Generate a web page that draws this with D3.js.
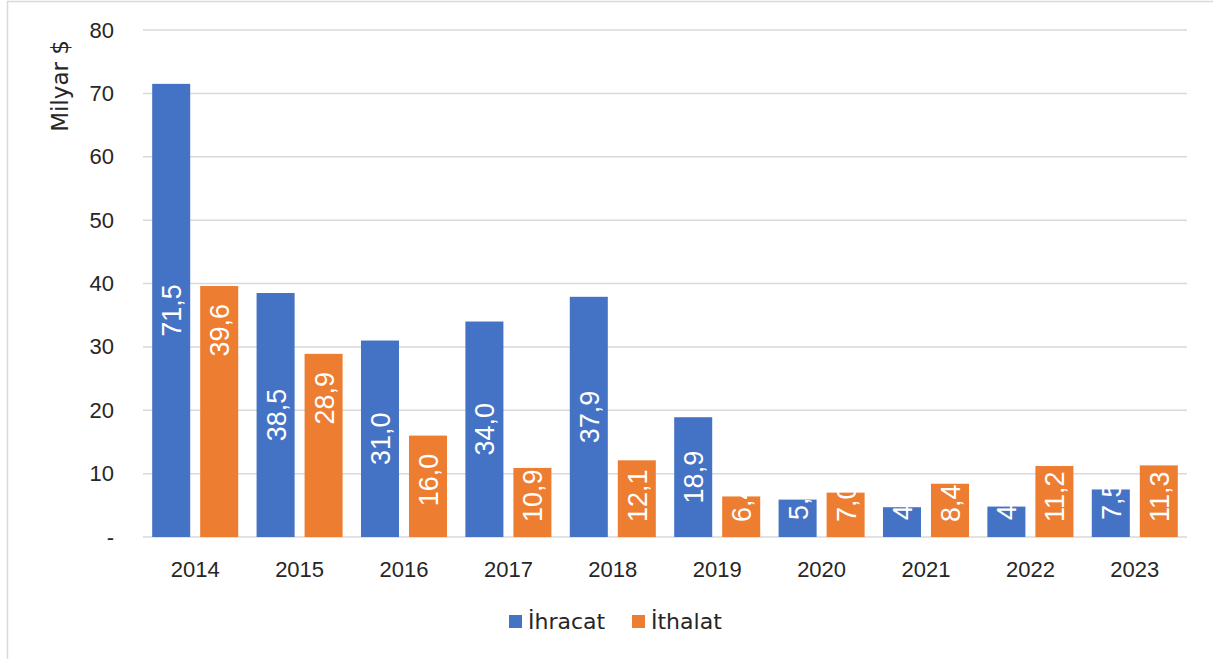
<!DOCTYPE html>
<html>
<head>
<meta charset="utf-8">
<script src="https://cdn.jsdelivr.net/npm/d3@7"></script>
<style>
  body { margin: 0; background: #fff; }
</style>
</head>
<body>
<svg id="chart" width="1213" height="659"></svg>
<script>
// yillar ve seriler
var years = ['2014', '2015', '2016', '2017', '2018', '2019', '2020', '2021', '2022', '2023'];
var ihracat = [71.5, 38.5, 31.0, 34.0, 37.9, 18.9, 5.9, 4.7, 4.8, 7.5];
var ithalat = [39.6, 28.9, 16.0, 10.9, 12.1, 6.4, 7.0, 8.4, 11.2, 11.3];
var seriesNames = ['İhracat', 'İthalat'];
var seriesColors = ['#4472C4', '#ED7D31'];
var yTicks = [0, 10, 20, 30, 40, 50, 60, 70, 80];

var svg = d3.select('#chart');
var numFont = '"Liberation Sans", Arial, sans-serif';
var wordFont = '"DejaVu Sans", sans-serif';

// cerceve
svg.append('rect')
    .attr('x', 7.5).attr('y', 1.5)
    .attr('width', 1210).attr('height', 665)
    .attr('fill', 'none').attr('stroke', '#d9d9d9').attr('stroke-width', 1.5);

var plotLeft = 143, plotRight = 1187, plotTop = 30, plotBottom = 537;

var x = d3.scaleBand().domain(years).range([plotLeft, plotRight])
    .paddingInner(0.176).paddingOuter(0.088);
var x1 = d3.scaleBand().domain(seriesNames).range([0, x.bandwidth()])
    .paddingInner(0.208).paddingOuter(0);
var y = d3.scaleLinear().domain([0, 80]).range([plotBottom, plotTop]);

// grid
svg.append('g').selectAll('line')
    .data(yTicks)
    .enter().append('line')
    .attr('x1', plotLeft).attr('x2', plotRight)
    .attr('y1', function(d){ return y(d); })
    .attr('y2', function(d){ return y(d); })
    .attr('stroke', '#d9d9d9').attr('stroke-width', 1.5);

// y axis labels
var yAxis = d3.axisLeft(y).tickValues(yTicks)
    .tickFormat(function(d){ return d === 0 ? '-' : d; })
    .tickSize(0).tickPadding(0);
var ya = svg.append('g').attr('transform', 'translate(114,0)').call(yAxis);
ya.select('.domain').remove();
ya.selectAll('text').style('font-size', '22px').style('fill', '#262626')
    .style('font-family', numFont);

svg.append('text')
    .attr('transform', 'translate(68,86) rotate(-90)')
    .attr('text-anchor', 'middle')
    .style('font-family', wordFont)
    .style('font-size', '23px').style('fill', '#262626')
    .text('Milyar $');

// x axis labels
var xAxis = d3.axisBottom(x).tickSize(0).tickPadding(0);
var xa = svg.append('g').attr('transform', 'translate(0,' + (plotBottom + 24) + ')').call(xAxis);
xa.select('.domain').remove();
xa.selectAll('text').style('font-size', '22px').style('fill', '#262626')
    .style('font-family', numFont);

// bars
var rows = years.map(function(yr, i){
    return { year: yr, vals: [
        { s: seriesNames[0], v: ihracat[i], k: 0 },
        { s: seriesNames[1], v: ithalat[i], k: 1 }
    ]};
});

var groups = svg.append('g').selectAll('g')
    .data(rows)
    .enter().append('g')
    .attr('transform', function(d){ return 'translate(' + x(d.year) + ',0)'; });

groups.selectAll('rect')
    .data(function(d){ return d.vals; })
    .enter().append('rect')
    .attr('x', function(d){ return x1(d.s); })
    .attr('width', x1.bandwidth())
    .attr('y', function(d){ return y(d.v); })
    .attr('height', function(d){ return plotBottom - y(d.v); })
    .attr('fill', function(d){ return seriesColors[d.k]; });

// data labels, white, rotated
var fmt = function(v){ return d3.format('.1f')(v).replace('.', ','); };
groups.selectAll('text.lbl')
    .data(function(d){ return d.vals; })
    .enter().append('text')
    .attr('class', 'lbl')
    .style('font-family', numFont)
    .style('font-size', '27px').style('fill', '#fff')
    .attr('text-anchor', 'start')
    .text(function(d){ return fmt(d.v); })
    .each(function(d){
        var len = this.getComputedTextLength();
        var barTop = y(d.v), h = plotBottom - barTop;
        var textBottom;
        if(d.k === 0)
        {
            textBottom = barTop + h / 2 + len / 2;
            textBottom = Math.min(textBottom, plotBottom - 17);
        }
        else
        {
            var pad = Math.min(18, (h - len) / 2);
            textBottom = barTop + Math.max(pad, 0) + len;
            textBottom = Math.min(textBottom, plotBottom - 15);
        }
        var cx = x1(d.s) + x1.bandwidth() / 2 + 10;
        d3.select(this).attr('transform', 'translate(' + cx + ',' + textBottom + ') rotate(-90)');
    });

// legend
var legend = svg.append('g').attr('transform', 'translate(509,615)');
var lx = [0, 123];
seriesNames.forEach(function(n, i){
    legend.append('rect').attr('x', lx[i]).attr('y', 0)
        .attr('width', 13).attr('height', 13).attr('fill', seriesColors[i]);
    legend.append('text').attr('x', lx[i] + 19).attr('y', 14)
        .style('font-family', wordFont)
        .style('font-size', '22px').style('fill', '#262626').text(n);
});
</script>
</body>
</html>
